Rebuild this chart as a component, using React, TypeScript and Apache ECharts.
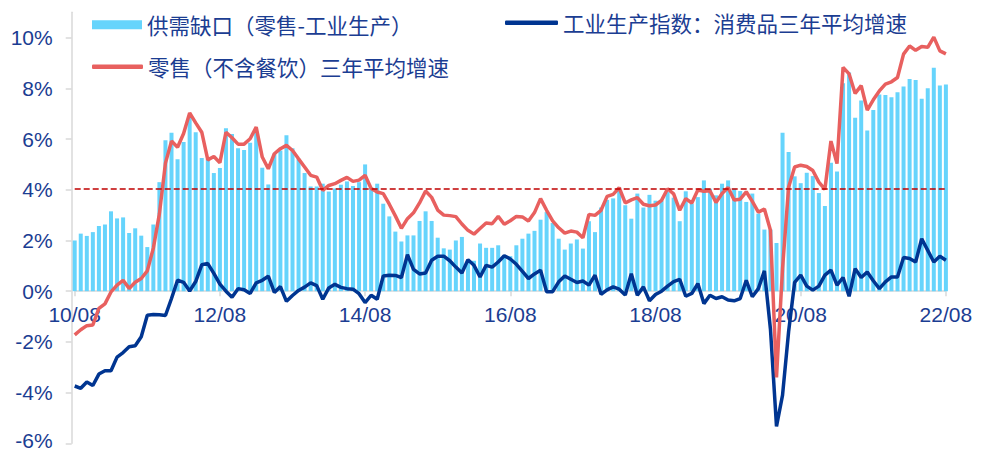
import React, { useEffect, useRef } from "react";
import * as echarts from "echarts";

// Month labels YY/MM from 2010-08 to 2022-08
const START_YEAR = 2010;
const START_MONTH = 8;
const MONTHS = 145;
const categories: string[] = [];
for (let k = 0; k < MONTHS; k++) {
  const m = START_MONTH - 1 + k;
  const y = START_YEAR + Math.floor(m / 12);
  const mm = (m % 12) + 1;
  categories.push(`${String(y % 100).padStart(2, "0")}/${String(mm).padStart(2, "0")}`);
}

const yTickValues = [-6, -4, -2, 0, 2, 4, 6, 8, 10];
const Y_MIN = -6;
const Y_MAX = 11;
const referenceLevel = 4.05;

const GAP_NAME = "供需缺口（零售-工业生产）";
const RETAIL_NAME = "零售（不含餐饮）三年平均增速";
const IND_NAME = "工业生产指数：消费品三年平均增速";

// 供需缺口（零售-工业生产）, %
const gap = [
  2.0, 2.27, 2.18, 2.33, 2.57, 2.63, 3.15, 2.87, 2.91, 2.29,
  2.48, 2.19, 1.74, 2.63, 4.3, 5.95, 6.25, 5.2, 5.88, 6.9,
  6.27, 5.25, 5.2, 4.66, 4.86, 6.43, 6.2, 5.64, 5.57, 5.85,
  6.3, 4.87, 4.21, 5.42, 5.55, 6.15, 5.64, 5.22, 4.66, 4.13,
  4.13, 4.24, 3.93, 4.05, 4.2, 4.33, 4.15, 4.3, 5.0, 4.1,
  4.24, 3.45, 2.95, 2.35, 1.96, 2.2, 2.2, 2.77, 3.15, 2.77,
  2.11, 1.69, 1.64, 2.0, 2.14, 1.2, 1.2, 1.88, 1.71, 1.71,
  1.81, 1.42, 1.38, 1.81, 2.07, 2.27, 2.38, 2.82, 3.12, 2.69,
  2.07, 1.64, 1.88, 2.04, 1.68, 2.76, 2.33, 3.3, 3.6, 3.66,
  4.1, 3.39, 2.86, 3.85, 3.3, 3.8, 3.57, 3.57, 3.91, 3.69,
  2.76, 3.94, 3.45, 3.71, 4.37, 4.04, 3.78, 4.24, 4.37, 4.04,
  3.95, 3.52, 3.85, 3.06, 2.43, 2.43, 1.9, 6.25, 5.49, 4.53,
  4.26, 4.67, 4.54, 3.87, 3.36, 5.07, 4.72, 8.2, 8.63, 6.84,
  7.52, 6.34, 7.15, 7.76, 7.74, 7.65, 7.85, 8.07, 8.37, 8.33,
  7.59, 8.0, 8.81, 8.11, 8.15,
];

// 零售（不含餐饮）三年平均增速, %
const retail = [
  -1.72, -1.52, -1.36, -1.33, -0.68, -0.5, -0.03, 0.24, 0.43, 0.11,
  0.35, 0.5, 0.8, 1.7, 3.05, 5.05, 5.92, 5.68, 6.22, 7.03,
  6.64, 6.27, 5.18, 5.31, 5.07, 6.27, 6.05, 5.8, 5.8, 6.01,
  6.47, 5.29, 4.83, 5.42, 5.62, 5.75, 5.55, 5.22, 4.9, 4.57,
  4.5, 3.98, 4.17, 4.24, 4.37, 4.49, 4.33, 4.38, 4.57, 4.05,
  3.91, 3.85, 3.43, 2.97, 2.48, 2.86, 3.09, 3.48, 3.95, 3.7,
  3.2, 3.0, 2.98, 2.94, 2.65, 2.4, 2.25, 2.47, 2.69, 2.66,
  2.95, 2.64, 2.78, 2.95, 2.93, 2.77, 3.1, 3.65, 3.19, 2.77,
  2.5, 2.29, 2.37, 2.33, 2.11, 3.03, 2.99, 3.19, 3.74, 3.82,
  4.08, 3.48, 3.6, 3.69, 3.43, 3.37, 3.4, 3.58, 4.04, 3.84,
  3.19, 3.65, 3.48, 3.99, 3.94, 3.96, 3.5, 3.85, 4.09, 3.6,
  3.63, 3.92, 3.54, 3.12, 3.24, 2.4, -3.4, 0.9, 4.1, 4.9,
  4.97, 4.92, 4.76, 4.3, 4.02, 5.92, 5.03, 8.83, 8.57, 7.8,
  8.11, 7.14, 7.55, 7.9, 8.17, 8.26, 8.43, 9.35, 9.67, 9.5,
  9.65, 9.62, 10.02, 9.48, 9.36,
];

// 工业生产指数：消费品三年平均增速, %
const industry = [
  -3.74, -3.83, -3.58, -3.72, -3.27, -3.14, -3.14, -2.6, -2.42, -2.19,
  -2.15, -1.8, -0.95, -0.92, -0.93, -0.96, -0.29, 0.43, 0.35, 0.01,
  0.38, 1.04, 1.09, 0.7, 0.28, 0.0, -0.24, 0.1, 0.06, -0.09,
  0.33, 0.43, 0.59, -0.05, 0.18, -0.4, -0.17, 0.03, 0.16, 0.33,
  0.22, -0.32, 0.13, 0.27, 0.15, 0.1, 0.08, -0.1, -0.45, -0.16,
  -0.32, 0.6, 0.63, 0.62, 0.54, 1.44, 0.86, 0.68, 0.72, 1.22,
  1.38, 1.38, 1.2, 0.95, 0.72, 1.24, 1.02, 0.56, 1.02, 0.95,
  1.15, 1.4, 1.27, 1.06, 0.78, 0.5, 0.68, 0.83, -0.02, -0.02,
  0.37, 0.6, 0.47, 0.34, 0.4, 0.24, 0.63, -0.12, 0.05, 0.17,
  0.08, -0.15, 0.69, -0.16, 0.17, -0.38, -0.13, 0.0, 0.2, 0.38,
  0.47, -0.2, -0.09, 0.3, -0.49, -0.16, -0.29, -0.22, -0.35, -0.38,
  -0.29, 0.43, -0.22, 0.1, 0.8, -1.5, -5.33, -4.1, -1.6, 0.35,
  0.63, 0.2, 0.04, 0.2, 0.63, 0.83, 0.24, 0.54, -0.2, 0.89,
  0.54, 0.76, 0.41, 0.1, 0.37, 0.56, 0.56, 1.33, 1.29, 1.15,
  2.07, 1.61, 1.15, 1.38, 1.22,
];

const TEXT = "#1B3D92";
const AXIS_GRAY = "#D9D9D9";
const BAR = "#66D4FC";
const RED = "#E8605F";
const BLUE = "#003591";
const LATIN = '"Liberation Sans", Arial, sans-serif';
const CJK = '"Noto Sans CJK SC", "Liberation Sans", sans-serif';

const W = 991;
const H = 453;
const GRID = { left: 74.7, right: 45.1, top: 12.3, bottom: 9.7 };

export default function App() {
  const ref = useRef<HTMLDivElement>(null);

  useEffect(() => {
    if (!ref.current) return;
    const chart = echarts.init(ref.current, undefined, { renderer: "svg" });
    const legendText = { color: TEXT, fontSize: 21.5, fontFamily: CJK };
    // place the category axis at the value 0 of the y scale
    const gridHeight = H - GRID.top - GRID.bottom;
    const zeroFromBottom = ((0 - Y_MIN) / (Y_MAX - Y_MIN)) * gridHeight;
    chart.setOption({
      animation: false,
      grid: { ...GRID, containLabel: false, outerBoundsMode: "none" },
      legend: [
        {
          data: [{ name: GAP_NAME, icon: "rect" }],
          left: 92, top: 14, padding: 0, itemWidth: 50, itemHeight: 9,
          selectedMode: false, textStyle: legendText,
        },
        {
          data: [{ name: RETAIL_NAME, icon: "roundRect" }],
          left: 92, top: 56, padding: 0, itemWidth: 51, itemHeight: 4.5,
          selectedMode: false, textStyle: legendText,
        },
        {
          data: [{ name: IND_NAME, icon: "roundRect" }],
          left: 505, top: 12, padding: 0, itemWidth: 53, itemHeight: 4.5,
          selectedMode: false, textStyle: legendText,
        },
      ],
      xAxis: {
        type: "category",
        data: categories,
        boundaryGap: false,
        offset: -zeroFromBottom,
        axisLine: { onZero: false, lineStyle: { color: AXIS_GRAY, width: 1.5 } },
        axisTick: { interval: 23, length: 5, lineStyle: { color: AXIS_GRAY, width: 1.5 } },
        axisLabel: { interval: 23, color: TEXT, fontSize: 21, fontFamily: LATIN, margin: 13 },
        splitLine: { show: false },
      },
      yAxis: {
        type: "value",
        min: Y_MIN,
        max: Y_MAX,
        interval: 2,
        offset: 3,
        axisLine: { show: true, lineStyle: { color: AXIS_GRAY, width: 1.5 } },
        axisTick: { show: true, length: 6, customValues: yTickValues, lineStyle: { color: AXIS_GRAY, width: 1.5 } },
        axisLabel: {
          customValues: yTickValues,
          formatter: (v: number) => (v === Y_MIN ? `{low|${v}%}` : `${v}%`),
          color: TEXT,
          fontSize: 21,
          lineHeight: 16,
          fontFamily: LATIN,
          margin: 19,
          rich: {
            low: {
              color: TEXT,
              fontSize: 21,
              lineHeight: 14,
              fontFamily: LATIN,
              padding: [0, 0, 5, 0],
            },
          },
        },
        splitLine: { show: false },
      },
      series: [
        {
          name: GAP_NAME,
          type: "bar",
          data: gap,
          barWidth: 4,
          itemStyle: { color: BAR },
          markLine: {
            silent: true,
            symbol: "none",
            label: { show: false },
            lineStyle: { color: "#C00000", type: [6, 3], width: 1.6 },
            data: [{ yAxis: referenceLevel }],
          },
        },
        {
          name: IND_NAME,
          type: "line",
          data: industry,
          symbol: "none",
          lineStyle: { color: BLUE, width: 3.5 },
          itemStyle: { color: BLUE },
        },
        {
          name: RETAIL_NAME,
          type: "line",
          data: retail,
          symbol: "none",
          lineStyle: { color: RED, width: 3.5 },
          itemStyle: { color: RED },
        },
      ],
    });
    return () => chart.dispose();
  }, []);

  return (
    <div
      ref={ref}
      style={{ position: "fixed", left: 0, top: 0, width: W, height: H, background: "#fff" }}
    />
  );
}
